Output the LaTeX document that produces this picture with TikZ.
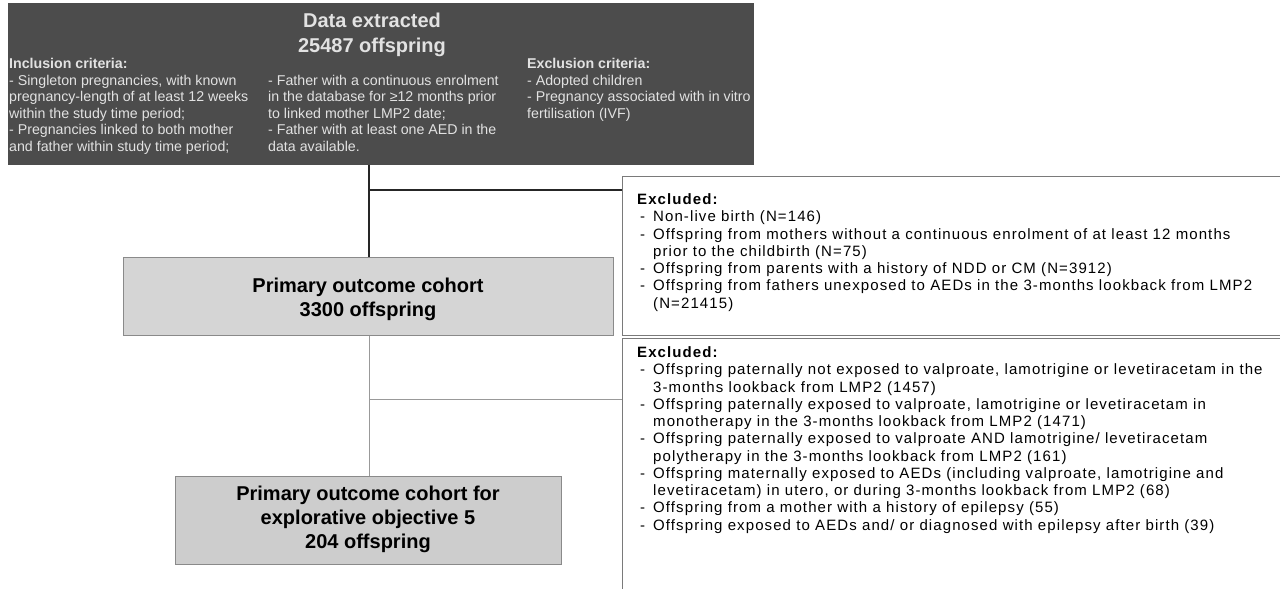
\documentclass[tikz,border=0pt]{standalone}
\usepackage{fontspec}
\setmainfont{Liberation Sans}
\newfontfamily\exfont[LetterSpace=7.3]{Liberation Sans}
\definecolor{topfill}{HTML}{4C4C4C}
\definecolor{toptext}{HTML}{E2E2E2}
\definecolor{boxfill}{HTML}{D5D5D5}
\definecolor{boxfilltwo}{HTML}{CDCDCD}
\definecolor{boxedge}{HTML}{8A8A8A}
\definecolor{exedge}{HTML}{7A7A7A}
\newcommand{\exitem}{\makebox[16pt][l]{\hspace*{3pt}-}}
\newcommand{\excont}{\hspace*{16pt}}
\begin{document}
\begin{tikzpicture}[x=1pt,y=-1pt,
  topbox/.style={fill=topfill,draw=none,inner sep=0,anchor=north west},
  cohort/.style={fill=boxfill,draw=boxedge,line width=0.8pt,inner sep=0,anchor=north west},
  cohorttext/.style={align=center,inner sep=0,font=\fontsize{20}{24}\selectfont\bfseries},
  toptitle/.style={align=center,inner sep=0,text=toptext,font=\fontsize{20}{25}\selectfont\bfseries},
  toptxt/.style={align=left,inner sep=0,anchor=north west,text=toptext,font=\fontsize{14.2}{16.6}\selectfont},
  exarea/.style={draw=none,inner sep=0,anchor=north west},
  exline/.style={draw=exedge,line width=0.7pt},
  extext/.style={align=left,inner sep=0,anchor=north west,font=\exfont\fontsize{15}{17.25}\selectfont},
  mainline/.style={draw=black!85,line width=1.2pt},
  subline/.style={draw=gray!80,line width=0.9pt}]
\useasboundingbox (0,0) rectangle (1280,589);
\fill[white] (0,0) rectangle (1280,589);

% top box
\node[topbox,minimum width=746pt,minimum height=162pt] (data) at (8,3) {};
\node[toptitle] (title) at (372,35) {Data extracted\\25487 offspring};
\node[toptxt] (incl) at (9,58) {\textbf{Inclusion criteria:}\\- Singleton pregnancies, with known\\pregnancy-length of at least 12 weeks\\within the study time period;\\- Pregnancies linked to both mother\\and father within study time period;};
\node[toptxt] (incl2) at (268,74.6) {- Father with a continuous enrolment\\in the database for ≥12 months prior\\to linked mother LMP2 date;\\- Father with at least one AED in the\\data available.};
\node[toptxt] (excl) at (527,58) {\textbf{Exclusion criteria:}\\- Adopted children\\- Pregnancy associated with in vitro\\fertilisation (IVF)};

% cohort boxes
\node[cohort,minimum width=490pt,minimum height=78pt] (prim) at (123,257) {};
\node[cohorttext] (primtext) at (368,299) {Primary outcome cohort\\3300 offspring};
\node[cohort,fill=boxfilltwo,minimum width=386pt,minimum height=88pt] (expl) at (175,476) {};
\node[cohorttext] (expltext) at (368,519) {Primary outcome cohort for\\explorative objective 5\\204 offspring};

% excluded areas
\node[exarea,minimum width=660pt,minimum height=159pt] (exone) at (622,176) {};
\draw[exline] (exone.north east) -- (exone.north west) -- (exone.south west) -- (exone.south east);
\node[exarea,minimum width=660pt,minimum height=252pt] (extwo) at (622,338) {};
\draw[exline] (extwo.north east) -- (extwo.north west) -- (extwo.south west);

\node[extext] (exonetext) at (637,193.5) {\textbf{Excluded:}\\
\exitem Non-live birth (N=146)\\
\exitem Offspring from mothers without a continuous enrolment of at least 12 months\\
\excont prior to the childbirth (N=75)\\
\exitem Offspring from parents with a history of NDD or CM (N=3912)\\
\exitem Offspring from fathers unexposed to AEDs in the 3-months lookback from LMP2\\
\excont (N=21415)};

\node[extext] (extwotext) at (637,346.5) {\textbf{Excluded:}\\
\exitem Offspring paternally not exposed to valproate, lamotrigine or levetiracetam in the\\
\excont 3-months lookback from LMP2 (1457)\\
\exitem Offspring paternally exposed to valproate, lamotrigine or levetiracetam in\\
\excont monotherapy in the 3-months lookback from LMP2 (1471)\\
\exitem Offspring paternally exposed to valproate AND lamotrigine/ levetiracetam\\
\excont polytherapy in the 3-months lookback from LMP2 (161)\\
\exitem Offspring maternally exposed to AEDs (including valproate, lamotrigine and\\
\excont levetiracetam) in utero, or during 3-months lookback from LMP2 (68)\\
\exitem Offspring from a mother with a history of epilepsy (55)\\
\exitem Offspring exposed to AEDs and/ or diagnosed with epilepsy after birth (39)};

% connectors
\coordinate (ptop) at (prim.north -| 369,0);
\coordinate (jone) at (exone.north west |- 0,190);
\coordinate (jtwo) at (extwo.north west |- 0,399);
\coordinate (etop) at (expl.north -| ptop);
\draw[mainline] (data.south -| ptop) -- (ptop);
\draw[mainline] (ptop |- jone) -- (jone);
\draw[subline] (prim.south -| ptop) -- (etop);
\draw[subline] (ptop |- jtwo) -- (jtwo);
\end{tikzpicture}
\end{document}
